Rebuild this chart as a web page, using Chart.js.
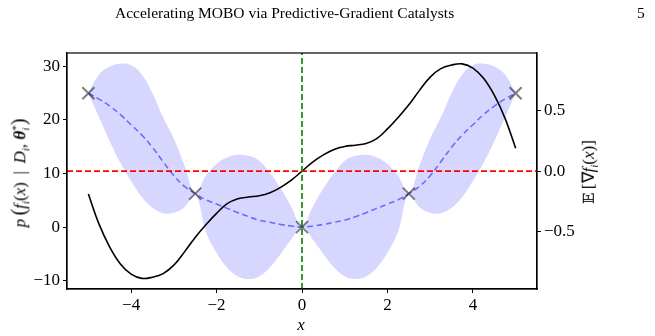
<!DOCTYPE html>
<html><head><meta charset="utf-8">
<script src="https://cdn.jsdelivr.net/npm/chart.js@4.4.0/dist/chart.umd.min.js"></script>
<style>
html,body{margin:0;padding:0;background:#fff;}
#wrap{position:relative;width:655px;height:336px;overflow:hidden;font-family:'Liberation Serif',serif;color:#000;}
canvas{position:absolute;left:0;top:0;}
.hdr{position:absolute;top:4px;left:115px;font-size:15.5px;white-space:nowrap;}
.pg{position:absolute;top:4px;left:637px;font-size:15.5px;}
.lab{position:absolute;white-space:nowrap;font-size:17px;line-height:1;}
.rot{transform:translate(-50%,-50%) rotate(-90deg);}
.stk{display:inline-block;vertical-align:middle;line-height:0.9;font-size:11px;text-align:left;}
.stk span{display:block;}
sub{font-size:11px;}
.bp{font-size:20px;}
</style></head>
<body>
<div id="wrap">
<canvas id="c" width="655" height="336"></canvas>
<div class="hdr">Accelerating MOBO via Predictive-Gradient Catalysts</div>
<div class="pg">5</div>
<div class="lab rot" style="left:20px;top:173px;"><i>p</i>&#8201;<span class="bp">(</span><i>f<sub>i</sub></i>(<i>x</i>) &#8201;|&#8201; <i>D</i><sub><i>i</i></sub>, <b><i>θ</i></b><span class="stk"><span>*</span><span><i>i</i></span></span><span class="bp">)</span></div>
<div class="lab rot" style="left:590px;top:172px;"><span style="font-family:'DejaVu Serif','DejaVu Sans',serif;font-size:15px">𝔼</span>&#8201;[∇<i>f<sub>i</sub></i>(<i>x</i>)]</div>
<div class="lab" style="left:301px;top:324px;transform:translate(-50%,-50%);"><i>x</i></div>
</div>
<script>
// ---- data ----
const xs = [-5,-4.75,-4.5,-4.25,-4,-3.75,-3.5,-3.25,-3,-2.75,-2.5,-2.25,-2,-1.75,-1.5,-1.25,-1,-0.75,-0.5,-0.25,0,
            0.25,0.5,0.75,1,1.25,1.5,1.75,2,2.25,2.5,2.75,3,3.25,3.5,3.75,4,4.25,4.5,4.75,5];
const meanY = [25,23.9,22.6,21.0,19.1,17.2,14.9,12.2,9.6,7.6,6.25,5.1,4.3,3.5,2.7,1.95,1.3,0.9,0.5,0.2,0,
               0.2,0.5,0.9,1.3,1.95,2.7,3.5,4.3,5.1,6.25,7.6,9.6,12.2,14.9,17.2,19.1,21.0,22.6,23.9,25];
const bandUpper = [25,28.5,30.0,30.5,30.2,28.5,25.0,20.5,16.5,11.5,6.25,9.6,11.8,13.0,13.5,13.3,12.4,10.1,7.2,3.8,0,
                   3.8,7.2,10.1,12.4,13.3,13.5,13.0,11.8,9.6,6.25,11.5,16.5,20.5,25.0,28.5,30.2,30.5,30.0,28.5,25];
const bandLower = [25,20.5,16.0,12.0,8.6,5.6,3.6,2.6,2.7,3.7,6.25,-0.8,-4.8,-7.6,-9.2,-9.7,-9.2,-7.5,-5.0,-2.3,0,
                   -2.3,-5.0,-7.5,-9.2,-9.7,-9.2,-7.6,-4.8,-0.8,6.25,3.7,2.7,2.6,3.6,5.6,8.6,12.0,16.0,20.5,25];
const gradMean = [-0.19,-0.44,-0.63,-0.77,-0.855,-0.89,-0.88,-0.85,-0.78,-0.67,-0.55,-0.445,-0.35,-0.27,-0.23,-0.215,-0.205,-0.18,-0.135,-0.075,0,
                  0.075,0.135,0.18,0.205,0.215,0.23,0.27,0.35,0.445,0.55,0.67,0.78,0.85,0.88,0.89,0.855,0.77,0.63,0.44,0.19];
const obsX = [-5,-2.5,0,2.5,5];
const obsY = [25,6.25,0,6.25,25];
const xTicks = [-4,-2,0,2,4];
const yLeftTicks = [-10,0,10,20,30];
const yRightTicks = [-0.5,0.0,0.5];
const xLimits = [-5.5,5.5];
const yLeftLimits = [-11.55,32.5];
const yRightLimits = [-0.978,0.98];
const gradRefLevel = 0;   // red dashed line (right axis)
const xRefLevel = 0;      // green dashed line

// ---- build ----
const pts = (xv, yv) => xv.map((x,i)=>({x:x, y:yv[i]}));
const minus = s => s.replace('-', '\u2212');
const tickFont = {family:"'Liberation Serif', serif", size:17};
const TENSION = 0.4;

const framePlugin = {
  id:'frame',
  afterDatasetsDraw(chart){
    const a = chart.chartArea, ctx = chart.ctx;
    ctx.save(); ctx.strokeStyle='#000'; ctx.lineWidth=1.2;
    ctx.strokeRect(a.left, a.top, a.right-a.left, a.bottom-a.top);
    ctx.restore();
  }
};

new Chart(document.getElementById('c'), {
  type:'line',
  data:{ datasets:[
    {label:'upper', data:pts(xs,bandUpper), yAxisID:'y', borderColor:'transparent', borderWidth:0, pointRadius:0,
     fill:'+1', backgroundColor:'rgba(0,0,255,0.16)', tension:TENSION, order:10},
    {label:'lower', data:pts(xs,bandLower), yAxisID:'y', borderColor:'transparent', borderWidth:0, pointRadius:0,
     fill:false, tension:TENSION, order:11},
    {label:'grad', data:pts(xs,gradMean), yAxisID:'y2', borderColor:'#000', borderWidth:1.6, pointRadius:0,
     fill:false, tension:TENSION, order:5},
    {label:'mean', data:pts(xs,meanY), yAxisID:'y', borderColor:'rgba(0,0,255,0.5)', borderWidth:1.6, borderDash:[6,3.5],
     pointRadius:0, fill:false, tension:TENSION, order:4},
    {label:'zero', data:pts(xLimits,[gradRefLevel,gradRefLevel]), yAxisID:'y2', borderColor:'#ff0000', borderWidth:1.6,
     borderDash:[6,3], pointRadius:0, fill:false, order:3},
    {label:'x0', data:pts([xRefLevel,xRefLevel], yLeftLimits), yAxisID:'y', borderColor:'#008000', borderWidth:1.6,
     borderDash:[6,3], pointRadius:0, fill:false, order:2},
    {label:'obs', data:pts(obsX,obsY), yAxisID:'y', showLine:false, pointStyle:'crossRot', pointRadius:8.5,
     pointBorderWidth:2, borderColor:'rgba(0,0,0,0.5)', pointBorderColor:'rgba(0,0,0,0.5)', backgroundColor:'transparent', order:1}
  ]},
  options:{
    responsive:false, animation:false, events:[],
    layout:{padding:{top:53,left:0,right:0,bottom:0}},
    plugins:{legend:{display:false}, tooltip:{enabled:false}},
    scales:{
      x:{type:'linear', position:'bottom', min:xLimits[0], max:xLimits[1],
         afterBuildTicks:s=>{s.ticks = xTicks.map(v=>({value:v}));},
         afterFit:s=>{s.height=47;},
         ticks:{font:tickFont, color:'#000', padding:2, maxRotation:0, autoSkip:false, callback:v=>minus(String(v))},
         grid:{drawOnChartArea:false, drawTicks:true, tickLength:4, color:'#000', tickWidth:1},
         border:{display:true, color:'#000', width:1.2}},
      y:{type:'linear', position:'left', min:yLeftLimits[0], max:yLeftLimits[1],
         afterBuildTicks:s=>{s.ticks = yLeftTicks.map(v=>({value:v}));},
         afterFit:s=>{s.width=67;},
         ticks:{font:tickFont, color:'#000', padding:3, autoSkip:false, callback:v=>minus(String(v))},
         grid:{drawOnChartArea:false, drawTicks:true, tickLength:4, color:'#000', tickWidth:1},
         border:{display:true, color:'#000', width:1.2}},
      y2:{type:'linear', position:'right', min:yRightLimits[0], max:yRightLimits[1],
         afterBuildTicks:s=>{s.ticks = yRightTicks.map(v=>({value:v}));},
         afterFit:s=>{s.width=118;},
         ticks:{font:tickFont, color:'#000', padding:3, autoSkip:false, callback:v=>minus(Number(v).toFixed(1))},
         grid:{drawOnChartArea:false, drawTicks:true, tickLength:4, color:'#000', tickWidth:1},
         border:{display:true, color:'#000', width:1.2}}
    }
  },
  plugins:[framePlugin]
});
</script>
</body></html>
